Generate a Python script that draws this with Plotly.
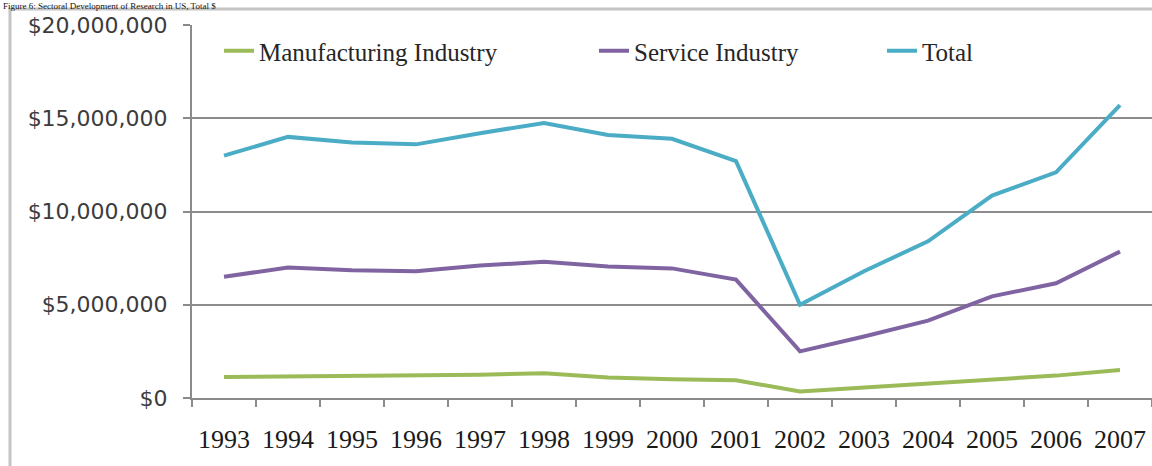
import plotly.graph_objects as go

years = [str(y) for y in range(1993, 2008)]
manufacturing = [1.12e6, 1.15e6, 1.15e6, 1.2e6, 1.25e6, 1.33e6, 1.1e6, 1.0e6, 0.95e6,
                 0.35e6, 0.55e6, 0.75e6, 0.95e6, 1.2e6, 1.5e6]
service = [6.5e6, 7.0e6, 6.85e6, 6.8e6, 7.1e6, 7.3e6, 7.05e6, 6.95e6, 6.35e6,
           2.5e6, 3.3e6, 4.15e6, 5.45e6, 6.15e6, 7.85e6]
total = [13.0e6, 14.0e6, 13.7e6, 13.6e6, 14.2e6, 14.75e6, 14.1e6, 13.9e6, 12.7e6,
         5.0e6, 6.8e6, 8.4e6, 10.85e6, 12.1e6, 15.7e6]
series_names = ["Manufacturing Industry", "Service Industry", "Total"]
colors = ["#9BBB59", "#8064A2", "#4BACC6"]
y_ticks = [0, 5e6, 10e6, 15e6, 20e6]
y_labels = ["$0", "$5,000,000", "$10,000,000", "$15,000,000", "$20,000,000"]
title_text = "Figure 6: Sectoral Development of Research in US, Total $"

W, H = 1152, 466
L, R, T, B = 192, 0, 25, 68
pw, ph = W - L - R, H - T - B

def px(x):
    return (x - L) / pw

def py(y):
    return (H - B - y) / ph

fig = go.Figure()
legend_keys = ["legend", "legend2", "legend3"]
legend_x = [219, 594, 882]
for name, vals, col, lk in zip(series_names, [manufacturing, service, total], colors, legend_keys):
    fig.add_trace(go.Scatter(x=years, y=vals, mode="lines", name=name,
                             line=dict(color=col, width=4), legend=lk))

legend_font = dict(family="Liberation Serif", size=25, color="#262626")
for lk, lx in zip(legend_keys, legend_x):
    fig.layout[lk] = dict(x=px(lx), y=py(51), xanchor="left", yanchor="middle",
                          orientation="h", font=legend_font, bgcolor="rgba(0,0,0,0)",
                          itemwidth=30, tracegroupgap=0)

fig.update_layout(
    width=W, height=H,
    margin=dict(l=L, r=R, t=T, b=B, autoexpand=False),
    paper_bgcolor="white", plot_bgcolor="white",
    showlegend=True,
)
fig.update_xaxes(type="category", range=[-0.5, 14.5], tickson="boundaries",
                 ticks="outside", ticklen=7, tickwidth=2, tickcolor="#8a8a8a",
                 showline=True, linecolor="#8a8a8a", linewidth=2, showgrid=False,
                 tickangle=0, automargin=False,
                 tickfont=dict(family="Liberation Serif", size=26, color="#1a1a1a"),
                 ticklabelstandoff=17)
fig.update_yaxes(range=[0, 20e6], tickvals=y_ticks, ticktext=y_labels,
                 ticks="outside", ticklen=7, tickwidth=2, tickcolor="#8a8a8a",
                 showline=True, linecolor="#8a8a8a", linewidth=2, automargin=False,
                 showgrid=True, gridcolor="#8c8c8c", gridwidth=2, zeroline=False,
                 tickfont=dict(family="DejaVu Sans", size=22, color="#3c3c3c"),
                 ticklabelstandoff=11)

# outer frame of the original figure
fig.add_shape(type="rect", xref="paper", yref="paper",
              x0=px(10), x1=px(1170), y0=py(490), y1=py(9),
              line=dict(color="#c4c4c4", width=3), fillcolor="rgba(0,0,0,0)", layer="below")

# caption at the top (cut off in the original)
fig.add_annotation(text=title_text, xref="paper", yref="paper",
                   x=px(2), y=py(0), xanchor="left", yanchor="top",
                   showarrow=False, borderpad=0,
                   font=dict(family="Liberation Serif", size=9, color="#111111"))

fig.write_html("out.html")
